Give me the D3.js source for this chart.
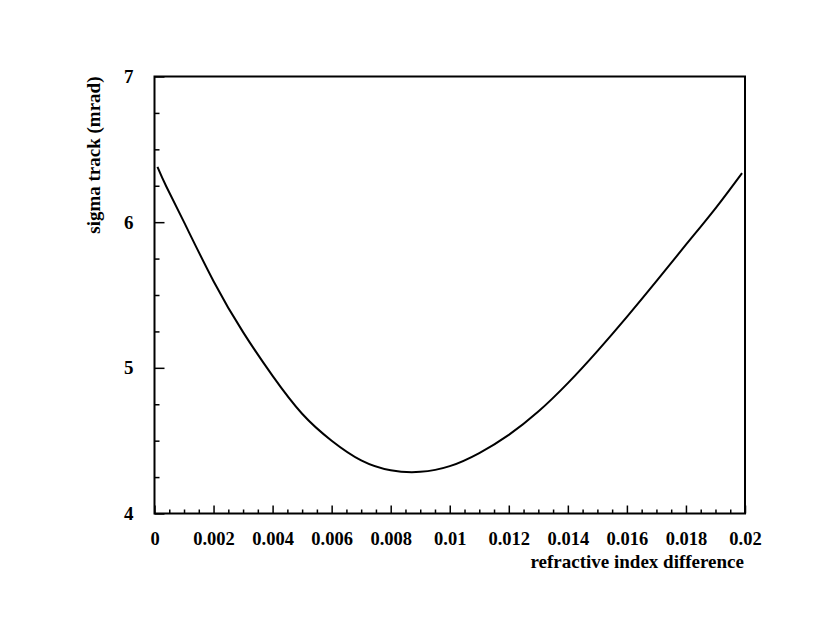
<!DOCTYPE html>
<html>
<head>
<meta charset="utf-8">
<script src="https://cdn.jsdelivr.net/npm/d3@7"></script>
<style>
  body { margin: 0; background: #fff; }
  text { font-family: "Liberation Serif", "Times New Roman", serif; font-weight: bold; }
</style>
</head>
<body>
<div id="chart"></div>
<script>
// datos
const indexDiff = [0.0001, 0.0004, 0.001, 0.002, 0.003, 0.004, 0.005, 0.006, 0.007, 0.008, 0.009, 0.010, 0.011, 0.012, 0.013, 0.014, 0.015, 0.016, 0.017, 0.018, 0.019, 0.0199];
const sigmaTrack = [6.38, 6.245, 6.0, 5.595, 5.245, 4.945, 4.685, 4.5, 4.365, 4.297, 4.286, 4.325, 4.415, 4.54, 4.70, 4.895, 5.115, 5.35, 5.595, 5.845, 6.095, 6.337];
const xTicks = [0, 0.002, 0.004, 0.006, 0.008, 0.01, 0.012, 0.014, 0.016, 0.018, 0.02];
const yTicks = [4, 5, 6, 7];

const svgWidth = 822, svgHeight = 617;
const margin = { top: 76.5, right: 77, bottom: 103.5, left: 154.5 };
const width = svgWidth - margin.left - margin.right;
const height = svgHeight - margin.top - margin.bottom;

const svg = d3.select("#chart").append("svg")
  .attr("width", svgWidth)
  .attr("height", svgHeight)
  .append("g")
  .attr("transform", `translate(${margin.left}, ${margin.top})`);

const x = d3.scaleLinear().domain([0, 0.02]).range([0, width]);
const y = d3.scaleLinear().domain([4, 7]).range([height, 0]);

// ticks menores hacia adentro
const xMinor = d3.range(0, 0.02 + 1e-9, 0.0005).filter(v => Math.abs(v / 0.002 - Math.round(v / 0.002)) > 1e-6);
const yMinor = d3.range(4, 7 + 1e-9, 0.25).filter(v => Math.abs(v - Math.round(v)) > 1e-6);

svg.append("g")
  .attr("transform", `translate(0, ${height})`)
  .call(d3.axisBottom(x).tickValues(xMinor).tickSize(-4).tickFormat(""))
  .call(g => g.select(".domain").remove())
  .selectAll("line").attr("stroke-width", 1.5);

svg.append("g")
  .attr("transform", `translate(0, ${height})`)
  .call(d3.axisBottom(x).tickValues(xTicks).tickSize(-8).tickPadding(18).tickFormat(d => d3.format("~g")(d)))
  .call(g => g.select(".domain").remove())
  .call(g => g.selectAll("line").attr("stroke-width", 1.5))
  .selectAll("text").attr("font-size", 18.5).attr("fill", "#000");

svg.append("g")
  .call(d3.axisLeft(y).tickValues(yMinor).tickSize(-5).tickFormat(""))
  .call(g => g.select(".domain").remove())
  .selectAll("line").attr("stroke-width", 1.5);

svg.append("g")
  .call(d3.axisLeft(y).tickValues(yTicks).tickSize(-10).tickPadding(21).tickFormat(d3.format("d")))
  .call(g => g.select(".domain").remove())
  .call(g => g.selectAll("line").attr("stroke-width", 1.5))
  .selectAll("text").attr("font-size", 19).attr("fill", "#000");

// marco
svg.append("rect")
  .attr("width", width)
  .attr("height", height)
  .attr("fill", "none")
  .attr("stroke", "#000")
  .attr("stroke-width", 2);

// curva
const pts = indexDiff.map((d, i) => [d, sigmaTrack[i]]);
svg.append("path")
  .datum(pts)
  .attr("fill", "none")
  .attr("stroke", "#000")
  .attr("stroke-width", 2)
  .attr("d", d3.line().x(d => x(d[0])).y(d => y(d[1])).curve(d3.curveNatural));

// titulos
svg.append("text")
  .attr("x", width - 1)
  .attr("y", height + 54)
  .attr("text-anchor", "end")
  .attr("font-size", 19)
  .text("refractive index difference");

svg.append("text")
  .attr("transform", `translate(${-55}, 0) rotate(-90)`)
  .attr("text-anchor", "end")
  .attr("font-size", 19)
  .text("sigma track (mrad)");
</script>
</body>
</html>
